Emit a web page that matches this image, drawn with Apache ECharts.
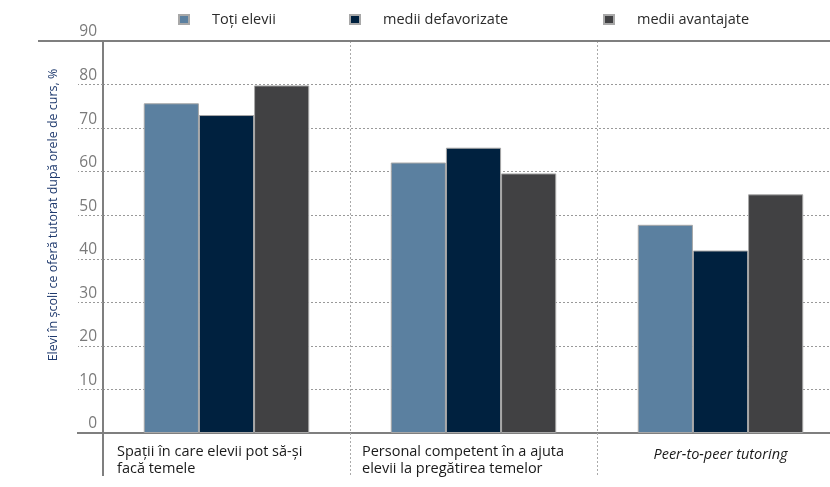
<!DOCTYPE html>
<html>
<head>
<meta charset="utf-8">
<script src="https://cdn.jsdelivr.net/npm/echarts@6/dist/echarts.min.js"></script>
<style>
html,body{margin:0;padding:0;background:#fff;}
#c{width:830px;height:487px;}
</style>
</head>
<body>
<div id="c"></div>
<script>
const categories = [
  ["Spații în care elevii pot să-și", "facă temele"],
  ["Personal competent în a ajuta", "elevii la pregătirea temelor"],
  ["Peer-to-peer tutoring"]
];
const seriesNames = ["Toți elevii", "medii defavorizate", "medii avantajate"];
const totiElevii = [75.7, 62.1, 47.8];
const mediiDefavorizate = [73.0, 65.5, 41.9];
const mediiAvantajate = [79.8, 59.6, 54.8];
const yTicks = [0, 10, 20, 30, 40, 50, 60, 70, 80, 90];
const yTitle = "Elevi în școli ce oferă tutorat după orele de curs, %";

const colors = ["#5b80a0", "#00213f", "#414143"];
const font = "'Open Sans', 'Noto Sans', sans-serif";
const gridLeft = 103, gridTop = 41, gridH = 392, gridW = 741;

const chart = echarts.init(document.getElementById('c'), null, {renderer: 'canvas'});

const legendLefts = [178, 349, 603];
const legends = seriesNames.map((n, i) => ({
  data: [n],
  left: legendLefts[i],
  top: 12,
  padding: 0,
  itemWidth: 10,
  itemHeight: 9,
  icon: 'rect',
  textStyle: {fontFamily: font, fontSize: 14.5, color: '#2a2a2a', padding: [0, 0, 0, 18]}
}));

const dataSets = [totiElevii, mediiDefavorizate, mediiAvantajate];

const labelStyle = {fontFamily: font, fontSize: 14.5, color: '#1a1a1a'};

const option = {
  animation: false,
  color: colors,
  legend: legends,
  grid: {left: gridLeft, top: gridTop, width: gridW, height: gridH, containLabel: false, outerBoundsMode: 'none'},
  xAxis: {
    type: 'category',
    data: categories.map(c => c.join('\n')),
    boundaryGap: true,
    axisLine: {show: true, lineStyle: {color: '#7f7f7f', width: 2}},
    axisTick: {show: true, interval: 0, length: 42, lineStyle: {color: '#aaa', type: [2, 2], width: 1}},
    splitLine: {show: true, interval: 0, lineStyle: {color: '#aaa', type: [2, 2], width: 1}},
    axisLabel: {
      interval: 0,
      margin: 10,
      hideOverlap: false,
      fontFamily: font,
      fontSize: 14.5,
      color: '#1a1a1a',
      formatter: function (v, idx) {
        const lines = categories[idx];
        if (idx === 2) return '{i|' + lines[0] + '}';
        const st = idx === 0 ? 'a' : 'b';
        return lines.map(l => '{' + st + '|' + l + '}').join('\n');
      },
      rich: {
        a: Object.assign({width: 219, align: 'left', lineHeight: 17}, labelStyle),
        b: Object.assign({width: 223, align: 'left', lineHeight: 17}, labelStyle),
        i: Object.assign({lineHeight: 23, fontStyle: 'italic'}, labelStyle)
      }
    }
  },
  yAxis: {
    type: 'value',
    min: yTicks[0],
    max: yTicks[yTicks.length - 1],
    interval: yTicks[1] - yTicks[0],
    axisLine: {show: true, lineStyle: {color: '#7f7f7f', width: 2}},
    axisTick: {show: true, length: 25, lineStyle: {color: '#999', type: [2, 2], width: 1}},
    splitLine: {show: true, lineStyle: {color: '#999', type: [2, 2], width: 1}},
    axisLabel: {
      margin: 6,
      fontFamily: font,
      fontSize: 15.5,
      color: '#7a7a7a',
      verticalAlign: 'bottom',
      padding: [0, 0, 1, 0]
    }
  },
  series: seriesNames.map((n, i) => ({
    name: n,
    type: 'bar',
    data: dataSets[i],
    barGap: '0%',
    barCategoryGap: '33%',
    itemStyle: {color: colors[i], borderColor: '#a8a8a8', borderWidth: 1}
  }))
};
chart.setOption(option);

const pTop = chart.convertToPixel({yAxisIndex: 0}, yTicks[yTicks.length - 1]);
const y0 = chart.convertToPixel({yAxisIndex: 0}, 0);
chart.setOption({
  graphic: [
    {type: 'line', shape: {x1: 38, y1: pTop, x2: 830, y2: pTop}, style: {stroke: '#7f7f7f', lineWidth: 2}, z: 100},
    {type: 'line', shape: {x1: 77, y1: y0, x2: gridLeft, y2: y0}, style: {stroke: '#7f7f7f', lineWidth: 2}, z: 100},
    {type: 'line', shape: {x1: gridLeft, y1: y0, x2: gridLeft, y2: y0 + 43}, style: {stroke: '#7f7f7f', lineWidth: 2}, z: 100},
    {type: 'text', x: 53, y: 215, rotation: Math.PI / 2,
     style: {text: yTitle, fontFamily: font, fontSize: 12.5, fill: '#1f3a6e', align: 'center', verticalAlign: 'middle'}, z: 100}
  ]
});
</script>
</body>
</html>
